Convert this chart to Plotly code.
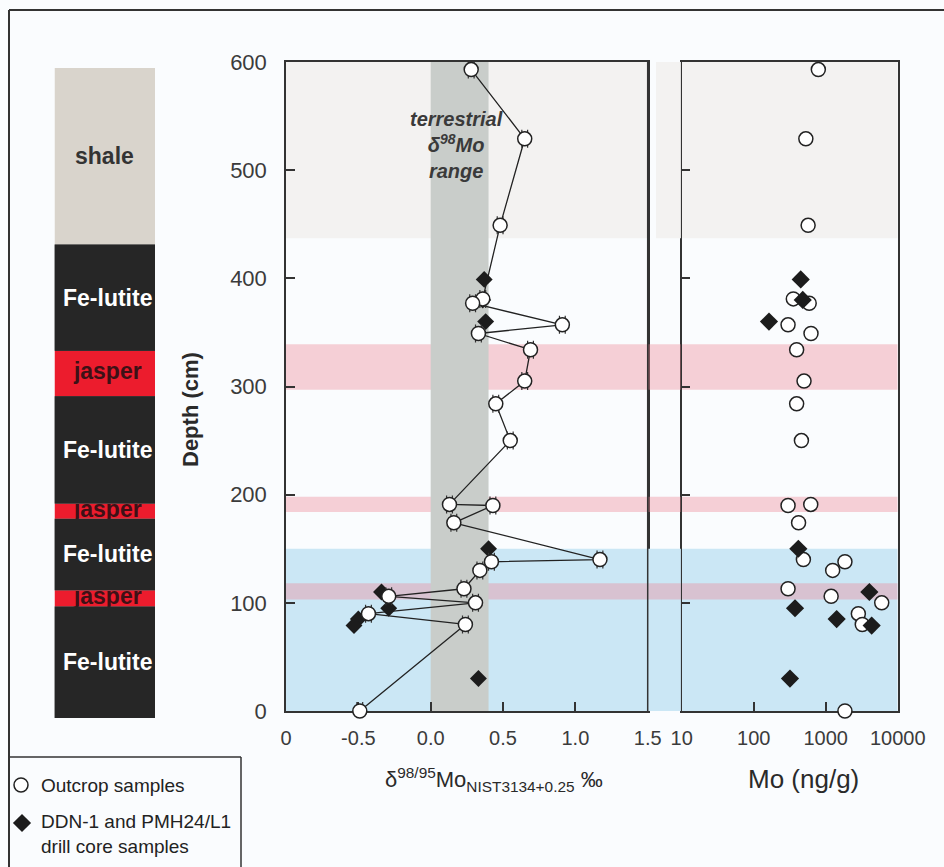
import plotly.graph_objects as go

# ---------------- data ----------------
# outcrop samples (open circles)
outcrop_depth = [593, 529, 449, 381, 377, 357, 349, 334, 305, 284, 250, 191, 190, 174,
                 140, 138, 130, 113, 106, 100, 90, 80, 0]
outcrop_d98 = [0.28, 0.65, 0.48, 0.36, 0.29, 0.91, 0.33, 0.69, 0.65, 0.45, 0.55, 0.13, 0.43, 0.16,
               1.17, 0.42, 0.34, 0.23, -0.29, 0.31, -0.43, 0.24, -0.49]
outcrop_d98_err = [0.02, 0.02, 0.02, 0.02, 0.02, 0.02, 0.02, 0.02, 0.02, 0.02, 0.02, 0.02, 0.02, 0.02,
                   0.02, 0.02, 0.02, 0.02, 0.02, 0.02, 0.02, 0.02, 0.02]
outcrop_mo = [790, 530, 570, 355, 590, 300, 625, 395, 500, 395, 460, 620, 300, 420,
              490, 1850, 1250, 300, 1190, 6000, 2840, 3220, 1850]

# drill core samples (filled diamonds)
drill_depth = [399, 380, 360, 150, 110, 95, 85, 79, 30]
drill_d98 = [0.37, 0.36, 0.38, 0.40, -0.34, -0.29, -0.50, -0.53, 0.33]
drill_mo = [450, 480, 163, 417, 4040, 375, 1420, 4350, 319]

# lithology column (depth in cm)
lith_names = ["Fe-lutite", "jasper", "Fe-lutite", "jasper", "Fe-lutite", "jasper", "Fe-lutite", "shale"]
lith_bottom = [0, 103, 118, 184, 198, 297, 339, 437]
lith_top = [103, 118, 184, 198, 297, 339, 437, 600]

# highlighted zone and terrestrial range
zone_bottom, zone_top = 0, 150
terr_low, terr_high = 0.0, 0.4

x_range = [-1.0, 1.5]
x_tickvals = [-1.0, -0.5, 0.0, 0.5, 1.0, 1.5]
x_ticktext = ["0", "-0.5", "0.0", "0.5", "1.0", "1.5"]
mo_range = [10, 10000]
mo_tickvals = [10, 100, 1000, 10000]
mo_ticktext = ["10", "100", "1000", "10000"]
depth_range = [0, 600]
depth_ticks = [0, 100, 200, 300, 400, 500, 600]

legend_names = ["Outcrop samples", "DDN-1 and PMH24/L1<br>drill core samples"]

# ---------------- styling ----------------
W, H = 944, 867
FONT = "Liberation Sans, Arial, sans-serif"
LINE = "#333333"
TXT = "#3b3b3b"
BG = "#fafcfe"
lith_fill = {"Fe-lutite": "#262626", "jasper": "#ec1c2d", "shale": "#d9d4cc"}
band_fill = {"shale": "#f3f2f1", "jasper": "rgba(237,135,150,0.38)", "zone": "#cbe7f5"}
circle_marker = dict(symbol="circle", size=14, color="white", line=dict(color="#222222", width=1.5))

LEFT_X0, LEFT_X1 = 286, 647.7     # left panel frame (px)
RIGHT_X0, RIGHT_X1 = 681.7, 897.7  # right panel frame (px)
TOP_Y, BOT_Y = 62, 711             # plot frame (px)


def fx(px):
    return px / W


def fy(py):
    return 1 - py / H


fig = go.Figure()

# connecting line for outcrop samples (depth order)
order = sorted(range(len(outcrop_depth)), key=lambda i: -outcrop_depth[i])
fig.add_trace(go.Scatter(
    x=[outcrop_d98[i] for i in order], y=[outcrop_depth[i] for i in order],
    mode="lines", line=dict(color="#222222", width=1.3),
    hoverinfo="skip", xaxis="x", yaxis="y", cliponaxis=False))

# left panel: diamonds then circles (circles on top)
fig.add_trace(go.Scatter(
    x=drill_d98, y=drill_depth, mode="markers",
    marker=dict(symbol="diamond", size=13, color="#1c1c1c", line=dict(width=0)),
    xaxis="x", yaxis="y", cliponaxis=False))
fig.add_trace(go.Scatter(
    x=outcrop_d98, y=outcrop_depth, mode="markers", marker=circle_marker,
    error_x=dict(type="data", array=outcrop_d98_err, width=9, thickness=1.2, color="#333333"),
    xaxis="x", yaxis="y", cliponaxis=False))

# right panel: circles then diamonds (diamonds on top)
fig.add_trace(go.Scatter(
    x=outcrop_mo, y=outcrop_depth, mode="markers", marker=circle_marker,
    xaxis="x2", yaxis="y2", cliponaxis=False))
fig.add_trace(go.Scatter(
    x=drill_mo, y=drill_depth, mode="markers",
    marker=dict(symbol="diamond", size=14, color="#1c1c1c", line=dict(width=0)),
    xaxis="x2", yaxis="y2", cliponaxis=False))

# lithology labels for jasper (text trace, clipped by Fe-lutite shapes drawn above)
jasper_mid = [(b + t) / 2 for n, b, t in zip(lith_names, lith_bottom, lith_top) if n == "jasper"]
fig.add_trace(go.Scatter(
    x=[0.53] * len(jasper_mid), y=jasper_mid, mode="text", text=["jasper"] * len(jasper_mid),
    textfont=dict(family=FONT, size=23, color="#3d1116", weight="bold"),
    hoverinfo="skip", xaxis="x3", yaxis="y3"))

# legend symbols (drawn on an invisible full-page axis)
fig.add_trace(go.Scatter(x=[fx(21)], y=[fy(785)], mode="markers", marker=circle_marker,
                         xaxis="x4", yaxis="y4", cliponaxis=False, hoverinfo="skip"))
fig.add_trace(go.Scatter(x=[fx(22)], y=[fy(823)], mode="markers",
                         marker=dict(symbol="diamond", size=14, color="#1c1c1c", line=dict(width=0)),
                         xaxis="x4", yaxis="y4", cliponaxis=False, hoverinfo="skip"))

shapes = []


def depth_to_paper(d):
    return fy(BOT_Y) + (fy(TOP_Y) - fy(BOT_Y)) * (d - depth_range[0]) / (depth_range[1] - depth_range[0])


def band(b, t, color, gap_start=LEFT_X1):
    # left panel piece, gap piece (between the two frames), right panel piece
    shapes.append(dict(type="rect", xref="x", yref="y", x0=x_range[0], x1=x_range[1], y0=b, y1=t,
                       fillcolor=color, line=dict(width=0), layer="below"))
    shapes.append(dict(type="rect", xref="paper", yref="paper", x0=fx(gap_start), x1=fx(RIGHT_X0 - 0.8),
                       y0=depth_to_paper(b), y1=depth_to_paper(t),
                       fillcolor=color, line=dict(width=0), layer="above"))
    shapes.append(dict(type="rect", xref="x2", yref="y2", x0=mo_range[0], x1=mo_range[1], y0=b, y1=t,
                       fillcolor=color, line=dict(width=0), layer="below"))


for n, b, t in zip(lith_names, lith_bottom, lith_top):
    if n == "shale":
        band(b, t, band_fill["shale"], gap_start=656)
band(zone_bottom, zone_top, band_fill["zone"])
for n, b, t in zip(lith_names, lith_bottom, lith_top):
    if n == "jasper":
        band(b, t, band_fill["jasper"])
# redraw left panel's right frame edge above the gap pieces
shapes.append(dict(type="line", xref="paper", yref="paper", x0=fx(LEFT_X1), x1=fx(LEFT_X1),
                   y0=fy(BOT_Y), y1=fy(TOP_Y), line=dict(color=LINE, width=1.5), layer="above"))
# terrestrial range band
shapes.append(dict(type="rect", xref="x", yref="y", x0=terr_low, x1=terr_high, y0=depth_range[0],
                   y1=depth_range[1], fillcolor="#c9cdca", line=dict(width=0), layer="below"))
# lithology column
for n, b, t in zip(lith_names, lith_bottom, lith_top):
    shapes.append(dict(type="rect", xref="x3", yref="y3", x0=0, x1=1, y0=b, y1=t,
                       fillcolor=lith_fill[n], line=dict(width=0), layer="below"))
for n, b, t in zip(lith_names, lith_bottom, lith_top):
    if n == "Fe-lutite":
        shapes.append(dict(type="rect", xref="x3", yref="y3", x0=0, x1=1, y0=b, y1=t,
                           fillcolor=lith_fill[n], line=dict(width=0), layer="above"))
# outer frame and legend box
shapes.append(dict(type="line", xref="paper", yref="paper", x0=fx(9), x1=fx(9), y0=fy(10), y1=0,
                   line=dict(color=LINE, width=2)))
shapes.append(dict(type="line", xref="paper", yref="paper", x0=fx(9), x1=1, y0=fy(10), y1=fy(10),
                   line=dict(color=LINE, width=2)))
shapes.append(dict(type="line", xref="paper", yref="paper", x0=fx(9), x1=fx(241), y0=fy(757), y1=fy(757),
                   line=dict(color=LINE, width=1.5)))
shapes.append(dict(type="line", xref="paper", yref="paper", x0=fx(241), x1=fx(241), y0=fy(757), y1=0,
                   line=dict(color=LINE, width=1.5)))

annotations = []
for n, b, t in zip(lith_names, lith_bottom, lith_top):
    if n == "Fe-lutite":
        annotations.append(dict(xref="x3", yref="y3", x=0.53, y=(b + t) / 2, text="<b>Fe-lutite</b>",
                                showarrow=False, font=dict(family=FONT, size=23, color="white")))
    elif n == "shale":
        annotations.append(dict(xref="x3", yref="y3", x=0.5, y=(b + t) / 2, text="<b>shale</b>",
                                showarrow=False, font=dict(family=FONT, size=23, color="#333333")))
annotations.append(dict(xref="x", yref="y", x=0.18, y=523,
                        text="<b><i>terrestrial<br>δ<sup>98</sup>Mo<br>range</i></b>",
                        showarrow=False, font=dict(family=FONT, size=20, color="#3a3a3a")))
annotations.append(dict(xref="paper", yref="paper", x=fx(190), y=fy(410), xanchor="center", yanchor="middle",
                        text="<b>Depth (cm)</b>", textangle=-90, showarrow=False,
                        font=dict(family=FONT, size=22, color="#2a2a2a")))
annotations.append(dict(xref="paper", yref="paper", x=fx(494), y=fy(779), xanchor="center", yanchor="middle",
                        text="δ<sup>98/95</sup>Mo<sub>NIST3134+0.25</sub> ‰",
                        showarrow=False, font=dict(family=FONT, size=22, color="#2a2a2a")))
annotations.append(dict(xref="paper", yref="paper", x=fx(803), y=fy(779), xanchor="center", yanchor="middle",
                        text="Mo (ng/g)", showarrow=False, font=dict(family=FONT, size=26, color="#2a2a2a")))
# legend texts
annotations.append(dict(xref="paper", yref="paper", x=fx(39), y=fy(785), xanchor="left", yanchor="middle",
                        text=legend_names[0], showarrow=False,
                        font=dict(family=FONT, size=19, color="#222222")))
annotations.append(dict(xref="paper", yref="paper", x=fx(39), y=fy(809), xanchor="left", yanchor="top",
                        align="left", text=legend_names[1], showarrow=False,
                        font=dict(family=FONT, size=19, color="#222222")))

axis_common = dict(showline=True, linecolor=LINE, linewidth=1.5, mirror=True, ticks="inside",
                   ticklen=9, tickwidth=1.5, tickcolor=LINE, showgrid=False, zeroline=False,
                   layer="below traces")
ydom = [fy(BOT_Y), fy(TOP_Y)]

fig.update_layout(
    width=W, height=H, margin=dict(l=0, r=0, t=0, b=0, autoexpand=False),
    paper_bgcolor=BG, plot_bgcolor="rgba(0,0,0,0)",
    font=dict(family=FONT, color=TXT),
    showlegend=False,
    xaxis=dict(domain=[fx(LEFT_X0), fx(LEFT_X1)], range=x_range, anchor="y",
               tickvals=x_tickvals, ticktext=x_ticktext, ticklabelstandoff=8,
               tickfont=dict(family=FONT, size=20, color=TXT), **axis_common),
    yaxis=dict(domain=ydom, range=depth_range, anchor="x", tickvals=depth_ticks,
               ticklabelstandoff=13, tickfont=dict(family=FONT, size=22, color=TXT), **axis_common),
    xaxis2=dict(domain=[fx(RIGHT_X0), fx(RIGHT_X1)], type="log", range=[1, 4], anchor="y2",
                tickvals=mo_tickvals, ticktext=mo_ticktext, ticklabelstandoff=8,
                tickfont=dict(family=FONT, size=20, color=TXT), **axis_common),
    yaxis2=dict(domain=ydom, range=depth_range, anchor="x2", tickvals=depth_ticks,
                showticklabels=False, **axis_common),
    xaxis3=dict(domain=[fx(54.5), fx(155)], range=[0, 1], anchor="y3", visible=False),
    yaxis3=dict(domain=[fy(718), fy(68)], range=depth_range, anchor="x3", visible=False),
    xaxis4=dict(domain=[0, 1], range=[0, 1], anchor="y4", visible=False),
    yaxis4=dict(domain=[0, 1], range=[0, 1], anchor="x4", visible=False),
    shapes=shapes, annotations=annotations,
)

fig.write_html("out.html")
